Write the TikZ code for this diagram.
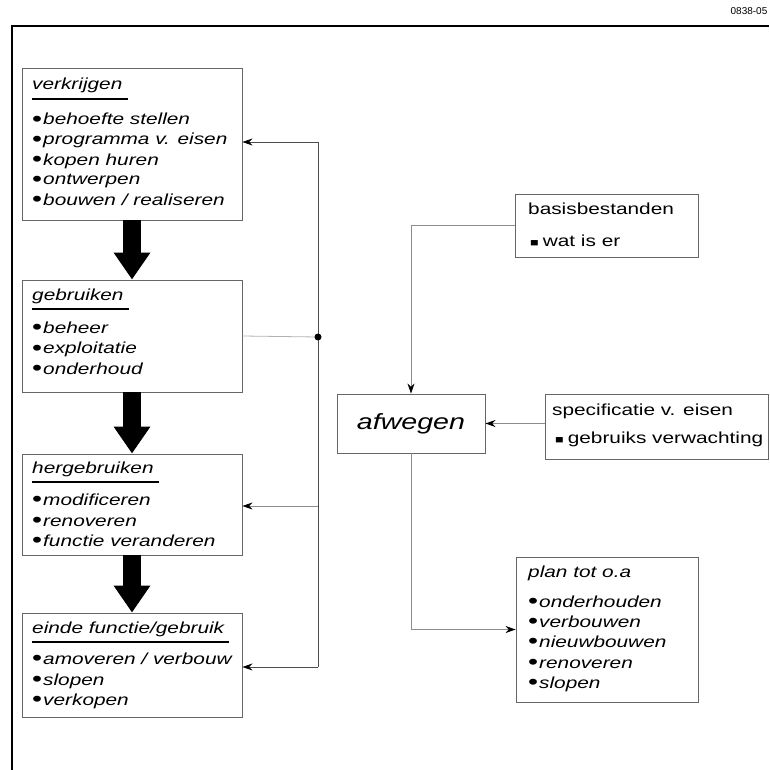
\documentclass[tikz,border=0pt]{standalone}
\usepackage{fontspec}
\setmainfont{Liberation Sans}[FakeStretch=1.3]
\newfontfamily\numfont{Liberation Sans}
\usetikzlibrary{arrows.meta}
\tikzset{box/.style={draw=black!60, line width=0.9pt, inner sep=0pt},
  lbox/.style={box, minimum width=220pt},
  txt/.style={anchor=base west, inner sep=0pt, font=\fontsize{16}{16}\selectfont\itshape},
  rtxt/.style={anchor=base west, inner sep=0pt, font=\fontsize{16}{16}\selectfont},
  uline/.style={line width=1.8pt},
  conn/.style={draw=black!45, line width=0.8pt},
  tip/.style={-{Stealth[length=10pt,width=7pt,black]}},
  bigarrow/.style={line width=18pt, -{Triangle[length=27pt,width=35pt]}}}
\newcommand{\bul}{\raisebox{-1.6pt}{\upshape\fontsize{22}{22}\selectfont\textbullet}\hspace{1pt}}
\newcommand{\sqb}{{\fontsize{11}{11}\selectfont\char"25A0}\hspace{4pt}}

\begin{document}
\begin{tikzpicture}[x=1pt,y=-1pt]
\useasboundingbox (0,0) rectangle (769,770);
\draw[line width=1.8pt] (12,770)--(12,26)--(769,26);
\node[font=\numfont\fontsize{10}{10}\selectfont] (nr) at (749,11) {0838-05};

\node[lbox, minimum height=152pt] (b1) at (132,144) {};
\node[txt] (t1) at (32,90) {verkrijgen};
\draw[uline] ([yshift=-9pt]t1.base west)--([yshift=-9pt,xshift=5pt]t1.base east);
\node[txt] (b1a) at (32,125) {\bul behoefte stellen};
\node[txt] (b1b) at (32,145) {\bul programma v. eisen};
\node[txt] (b1c) at (32,165) {\bul kopen huren};
\node[txt] (b1d) at (32,185) {\bul ontwerpen};
\node[txt] (b1e) at (32,205) {\bul bouwen / realiseren};

\node[lbox, minimum height=112pt] (b2) at (132,336) {};
\node[txt] (t2) at (32,300) {gebruiken};
\draw[uline] ([yshift=-9pt]t2.base west)--([yshift=-9pt,xshift=5pt]t2.base east);
\node[txt] (b2a) at (32,333) {\bul beheer};
\node[txt] (b2b) at (32,353.5) {\bul exploitatie};
\node[txt] (b2c) at (32,374) {\bul onderhoud};

\node[lbox, minimum height=101pt] (b3) at (132,504.5) {};
\node[txt] (t3) at (32,473) {hergebruiken};
\draw[uline] ([yshift=-9pt]t3.base west)--([yshift=-9pt,xshift=5pt]t3.base east);
\node[txt] (b3a) at (32,505) {\bul modificeren};
\node[txt] (b3b) at (32,526) {\bul renoveren};
\node[txt] (b3c) at (32,546) {\bul functie veranderen};

\node[lbox, minimum height=104pt] (b4) at (132,665) {};
\node[txt] (t4) at (32,633) {einde functie/gebruik};
\draw[uline] ([yshift=-9pt]t4.base west)--([yshift=-9pt,xshift=5pt]t4.base east);
\node[txt] (b4a) at (32,664) {\bul amoveren / verbouw};
\node[txt] (b4b) at (32,685) {\bul slopen};
\node[txt] (b4c) at (32,705) {\bul verkopen};

\draw[bigarrow] (b1.south)--(b2.north);
\draw[bigarrow] (b2.south)--(b3.north);
\draw[bigarrow] (b3.south)--(b4.north);

\node[box, minimum width=148pt, minimum height=59pt,
  font=\fontsize{22}{22}\selectfont\itshape] (afw) at (411,423.5) {afwegen};

\node[box, minimum width=183pt, minimum height=63pt] (basis) at (606.5,225.5) {};
\node[rtxt] (basist) at (528,214) {basisbestanden};
\node[rtxt] (basisa) at (530,246) {\sqb wat is er};

\node[box, minimum width=223pt, minimum height=65pt] (spec) at (656.5,426.5) {};
\node[rtxt] (spect) at (552,415) {specificatie v. eisen};
\node[rtxt] (speca) at (555,443) {\sqb gebruiks verwachting};

\node[box, minimum width=182pt, minimum height=145pt] (plan) at (607,629.5) {};
\node[txt] (plant) at (528,577) {plan tot o.a};
\node[txt] (plana) at (528,607) {\bul onderhouden};
\node[txt] (planb) at (528,627) {\bul verbouwen};
\node[txt] (planc) at (528,647) {\bul nieuwbouwen};
\node[txt] (pland) at (528,668) {\bul renoveren};
\node[txt] (plane) at (528,688) {\bul slopen};

\coordinate (jtop) at (318,142);
\coordinate (jdot) at (318,337);
\coordinate (jmid) at (318,506);
\coordinate (jbot) at (318,667);
\draw[conn, draw=black!70] (jtop)--(jbot);
\draw[conn, draw=black!70, tip] (jtop)--(jtop -| b1.east);
\draw[conn, draw=black!30] (b2.east)--(jdot);
\fill (jdot) circle (3.5);
\draw[conn, tip] (jmid)--(jmid -| b3.east);
\draw[conn, draw=black!70, tip] (jbot)--(jbot -| b4.east);

\draw[conn, tip] (basis.west) -| (afw.north);
\draw[conn, tip] (afw.east -| spec.west)--(afw.east);
\draw[conn, tip] (afw.south) |- (plan.west);
\end{tikzpicture}
\end{document}
